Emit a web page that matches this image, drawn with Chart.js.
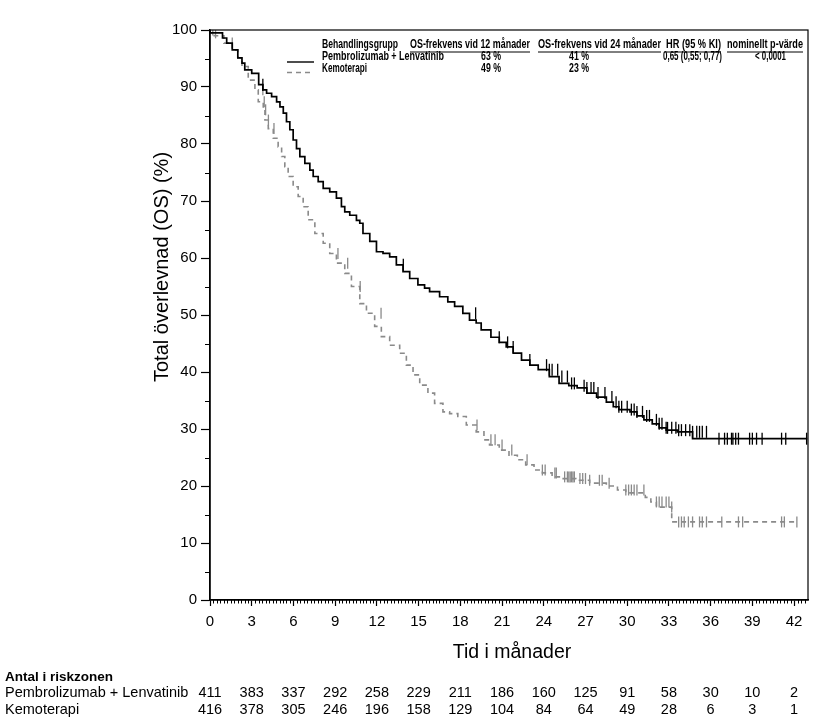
<!DOCTYPE html>
<html>
<head>
<meta charset="utf-8">
<title>Total överlevnad</title>
<script src="https://cdn.jsdelivr.net/npm/chart.js@4.4.1/dist/chart.umd.min.js"></script>
<style>
  html, body { margin: 0; padding: 0; background: #fff; }
  #wrap { width: 826px; height: 727px; }
</style>
</head>
<body>
<div id="wrap"><canvas id="osChart" width="826" height="727"></canvas></div>
<script>
// --- Kaplan-Meier values (months, % surviving) ---
const pembroTimes = [0, 0.9, 1.2, 1.6, 2.0, 2.3, 2.5, 3.0, 3.5, 3.8, 4.07, 4.43, 4.79, 5.03, 5.27, 5.5, 5.74, 5.98, 6.22, 6.46,
  6.82, 7.18, 7.42, 7.78, 8.14, 8.61, 9.09, 9.45, 9.69, 10.05, 10.53, 10.77, 11.0, 11.49, 11.97, 12.44, 12.92, 13.4, 13.88, 14.36,
  14.95, 15.43, 15.79, 16.51, 17.1, 17.59, 18.18, 18.66, 19.14, 19.5, 20.2, 20.8, 21.3, 21.8, 22.4, 23.0, 23.6, 24.4, 25.1, 25.8,
  26.4, 27.1, 27.8, 28.5, 29.0, 29.4, 30.2, 30.7, 31.2, 31.8, 32.3, 32.8, 33.6, 34.7, 36.5, 42.95];
const pembroSurv = [100, 99.5, 98.6, 97.7, 96.5, 95.1, 94.2, 93.0, 92.4, 90.4, 89.5, 88.9, 88.3, 87.4, 86.5, 85.4, 83.9, 82.5, 80.7, 79.2,
  77.8, 76.6, 75.4, 74.3, 73.4, 72.2, 71.6, 70.5, 69.0, 68.1, 67.5, 66.6, 66.1, 64.3, 62.9, 61.1, 60.8, 60.2, 58.8, 57.6,
  56.4, 55.3, 54.7, 54.1, 53.2, 52.3, 51.5, 50.3, 49.1, 48.6, 47.4, 46.1, 45.2, 44.4, 43.3, 42.1, 41.2, 40.4, 39.2, 38.0,
  37.6, 37.2, 36.3, 35.6, 34.7, 33.9, 33.4, 33.0, 32.3, 31.6, 30.9, 30.2, 29.8, 29.5, 28.3, 28.3];
const pembroCensor = [3.8, 13.9, 19.1, 20.8, 21.4, 21.8, 23.0, 24.2, 24.4, 24.6, 25.0, 25.3, 25.7, 26.0, 26.2, 26.9, 27.1, 27.4,
  27.6, 27.9, 28.4, 28.9, 29.2, 29.4, 29.6, 30.0, 30.3, 30.5, 30.7, 31.1, 31.4, 31.6, 32.1, 32.3, 32.5, 32.8, 32.9, 33.2,
  33.5, 33.7, 33.9, 34.2, 34.5, 34.7, 35.0, 35.2, 35.4, 35.7, 36.6, 37.0, 37.2, 37.5, 37.6, 37.8, 38.0, 38.8, 39.0, 39.3,
  39.7, 41.1, 41.4, 42.9];

const kemoTimes = [0, 0.3, 1.0, 1.6, 2.0, 2.3, 2.75, 3.23, 3.47, 3.83, 3.95, 4.19, 4.55, 4.9, 5.15, 5.38, 5.62, 5.98, 6.34, 6.7,
  7.06, 7.54, 8.14, 8.61, 9.09, 9.69, 10.17, 10.77, 11.25, 11.84, 12.32, 12.92, 13.64, 14.12, 14.6, 15.08, 15.67, 16.15, 16.75, 17.23,
  17.82, 18.43, 19.14, 19.7, 20.1, 20.8, 21.5, 22.1, 22.7, 23.3, 23.9, 24.6, 25.3, 26.3, 27.3, 28.5, 29.3, 29.9, 31.3, 31.7,
  32.1, 33.2, 33.5, 42.2];
const kemoSurv = [100, 99.5, 99.0, 97.7, 96.5, 95.1, 93.6, 91.2, 89.5, 87.4, 86.0, 84.2, 82.7, 81.0, 79.5, 77.8, 76.0, 74.3, 72.5, 70.8,
  69.0, 66.7, 64.3, 62.6, 60.8, 59.1, 57.3, 55.0, 52.0, 50.3, 48.0, 46.2, 44.7, 43.3, 41.2, 39.5, 37.7, 36.3, 34.5, 33.0,
  32.7, 32.2, 30.7, 29.5, 28.1, 27.2, 26.3, 25.4, 24.6, 23.7, 22.8, 22.3, 21.6, 21.3, 21.0, 20.5, 20.0, 19.3, 18.8, 18.0,
  17.2, 16.3, 13.7, 13.7];
const kemoCensor = [0.2, 0.4, 1.6, 3.8, 3.9, 4.0, 4.2, 4.6, 9.2, 9.9, 10.8, 12.3, 19.2, 20.2, 20.5, 21.0, 21.7, 22.8, 23.9,
  24.1, 24.8, 24.9, 25.5, 25.7, 25.8, 25.9, 26.0, 26.1, 26.2, 26.6, 26.8, 27.0, 27.3, 28.0, 28.2, 28.7, 29.9, 30.1, 30.3,
  30.5, 30.7, 31.2, 32.1, 32.3, 32.5, 32.8, 33.0, 33.2, 33.7, 33.9, 34.1, 34.4, 34.7, 35.2, 35.4, 35.7, 36.8, 38.0, 38.3,
  41.1, 41.3, 42.2];

// --- number at risk table ---
const riskTimes = [0, 3, 6, 9, 12, 15, 18, 21, 24, 27, 30, 33, 36, 39, 42];
const riskPembro = [411, 383, 337, 292, 258, 229, 211, 186, 160, 125, 91, 58, 30, 10, 2];
const riskKemo = [416, 378, 305, 246, 196, 158, 129, 104, 84, 64, 49, 28, 6, 3, 1];

// --- inset legend text ---
const groupNames = ['Pembrolizumab + Lenvatinib', 'Kemoterapi'];
const os12 = ['63 %', '49 %'];
const os24 = ['41 %', '23 %'];
const hrText = '0,65 (0,55; 0,77)';
const pText = '< 0,0001';

const FONT = '"Liberation Sans", Arial, Helvetica, sans-serif';
const NARROW = '"Liberation Sans Narrow", "Liberation Sans", Arial, sans-serif';
const GRAY = '#8a8a8a';

// step function value at time t (KM convention)
function survAt(times, surv, t) {
    let s = surv[0];
    for (let i = 0; i < times.length; i++) {
        if (times[i] <= t) s = surv[i]; else break;
    }
    return s;
}
const toPoints = (xs, ys) => xs.map((x, i) => ({ x: x, y: ys[i] }));
const censorPoints = (c, xs, ys) => c.map(t => ({ x: t, y: survAt(xs, ys, t) }));

// --- extra drawing: frame, minor ticks, titles, inset legend, risk table ---
const kmExtras = {
    id: 'kmExtras',
    afterDraw(chart) {
        const ctx = chart.ctx;
        const xs = chart.scales.x, ys = chart.scales.y;
        const a = chart.chartArea;
        ctx.save();

        // frame round the plot
        ctx.strokeStyle = '#000';
        ctx.lineWidth = 1.2;
        ctx.strokeRect(a.left, a.top, a.right - a.left, a.bottom - a.top);

        // minor ticks
        ctx.lineWidth = 1;
        ctx.beginPath();
        for (let v = 0.25; v < 43; v += 0.25) {
            if (Math.abs(v / 3 - Math.round(v / 3)) < 1e-6) continue;
            const px = Math.round(xs.getPixelForValue(v)) + 0.5;
            ctx.moveTo(px, a.bottom);
            ctx.lineTo(px, a.bottom + 3.5);
        }
        for (let v = 5; v < 100; v += 10) {
            const py = Math.round(ys.getPixelForValue(v)) + 0.5;
            ctx.moveTo(a.left, py);
            ctx.lineTo(a.left - 5, py);
        }
        ctx.stroke();

        // axis titles
        ctx.fillStyle = '#000';
        ctx.textAlign = 'center';
        ctx.textBaseline = 'middle';
        ctx.font = '20px ' + FONT;
        ctx.save();
        ctx.translate(162, 267);
        ctx.rotate(-Math.PI / 2);
        ctx.fillText('Total överlevnad (OS) (%)', 0, 0);
        ctx.restore();
        ctx.font = '19.5px ' + FONT;
        ctx.fillText('Tid i månader', 512, 653);

        // inset legend
        ctx.font = 'bold 12.5px ' + NARROW;
        ctx.textAlign = 'left';
        const put = (t, x1, x2, y) => ctx.fillText(t, x1, y, x2 - x1);
        const hy = 45, r1 = 57, r2 = 68.5;
        put('Behandlingsgrupp', 322, 398, hy);
        const heads = [['OS-frekvens vid 12 månader', 410, 530], ['OS-frekvens vid 24 månader', 538, 661],
            ['HR (95 % KI)', 666, 721], ['nominellt p-värde', 727, 803]];
        ctx.lineWidth = 1;
        ctx.beginPath();
        heads.forEach(h => {
            put(h[0], h[1], h[2], hy);
            const w = Math.min(ctx.measureText(h[0]).width, h[2] - h[1]);
            ctx.moveTo(h[1], hy + 7);
            ctx.lineTo(h[1] + w, hy + 7);
        });
        ctx.stroke();
        put(groupNames[0], 322, 444, r1);
        put(os12[0], 481, 501, r1);
        put(os24[0], 569, 589, r1);
        put(hrText, 663, 722, r1);
        put(pText, 755, 786, r1);
        put(groupNames[1], 322, 367, r2);
        put(os12[1], 481, 501, r2);
        put(os24[1], 569, 589, r2);

        ctx.lineWidth = 1.4;
        ctx.strokeStyle = '#000';
        ctx.beginPath();
        ctx.moveTo(287, r1 + 5);
        ctx.lineTo(314, r1 + 5);
        ctx.stroke();
        ctx.strokeStyle = GRAY;
        ctx.setLineDash([5, 4]);
        ctx.beginPath();
        ctx.moveTo(287, r2 + 4);
        ctx.lineTo(314, r2 + 4);
        ctx.stroke();
        ctx.setLineDash([]);

        // number at risk
        ctx.fillStyle = '#000';
        ctx.font = 'bold 13.5px ' + FONT;
        ctx.textAlign = 'left';
        ctx.fillText('Antal i riskzonen', 5, 677);
        ctx.font = '14.5px ' + FONT;
        ctx.fillText(groupNames[0], 5, 693);
        ctx.fillText(groupNames[1], 5, 710);
        ctx.textAlign = 'center';
        riskTimes.forEach((t, i) => {
            const px = xs.getPixelForValue(t);
            ctx.fillText(String(riskPembro[i]), px, 693);
            ctx.fillText(String(riskKemo[i]), px, 710);
        });

        ctx.restore();
    }
};

const ctx = document.getElementById('osChart');
new Chart(ctx, {
    type: 'line',
    data: {
        datasets: [
            {
                label: groupNames[0],
                data: toPoints(pembroTimes, pembroSurv),
                stepped: 'after',
                borderColor: '#000',
                borderWidth: 1.7,
                pointRadius: 0,
                fill: false
            },
            {
                label: groupNames[0] + ' censur',
                data: censorPoints(pembroCensor, pembroTimes, pembroSurv),
                showLine: false,
                pointStyle: 'line',
                pointRotation: 90,
                pointRadius: 6,
                pointBorderWidth: 1.3,
                borderColor: '#000'
            },
            {
                label: groupNames[1],
                data: toPoints(kemoTimes, kemoSurv),
                stepped: 'after',
                borderColor: GRAY,
                borderWidth: 1.6,
                borderDash: [5, 4],
                pointRadius: 0,
                fill: false
            },
            {
                label: groupNames[1] + ' censur',
                data: censorPoints(kemoCensor, kemoTimes, kemoSurv),
                showLine: false,
                pointStyle: 'line',
                pointRotation: 90,
                pointRadius: 5.5,
                pointBorderWidth: 1.3,
                borderColor: GRAY
            }
        ]
    },
    options: {
        responsive: false,
        animation: false,
        layout: { padding: { left: 0, top: 30, right: 18, bottom: 0 } },
        plugins: {
            legend: { display: false },
            tooltip: { enabled: false }
        },
        scales: {
            x: {
                type: 'linear',
                min: 0,
                max: 43,
                afterFit: s => { s.height = 127; },
                ticks: {
                    stepSize: 3,
                    includeBounds: false,
                    autoSkip: false,
                    maxRotation: 0,
                    padding: 7,
                    color: '#000',
                    font: { family: FONT, size: 15 }
                },
                grid: { drawOnChartArea: false, tickLength: 6, color: '#000', tickWidth: 1.2 },
                border: { color: '#000', width: 1.5 }
            },
            y: {
                min: 0,
                max: 100,
                afterFit: s => { s.width = 210; },
                ticks: {
                    stepSize: 10,
                    padding: 4,
                    color: '#000',
                    font: { family: FONT, size: 15 }
                },
                grid: { drawOnChartArea: false, tickLength: 9, color: '#000', tickWidth: 1.2 },
                border: { color: '#000', width: 1.5 }
            }
        }
    },
    plugins: [kmExtras]
});
</script>
</body>
</html>
